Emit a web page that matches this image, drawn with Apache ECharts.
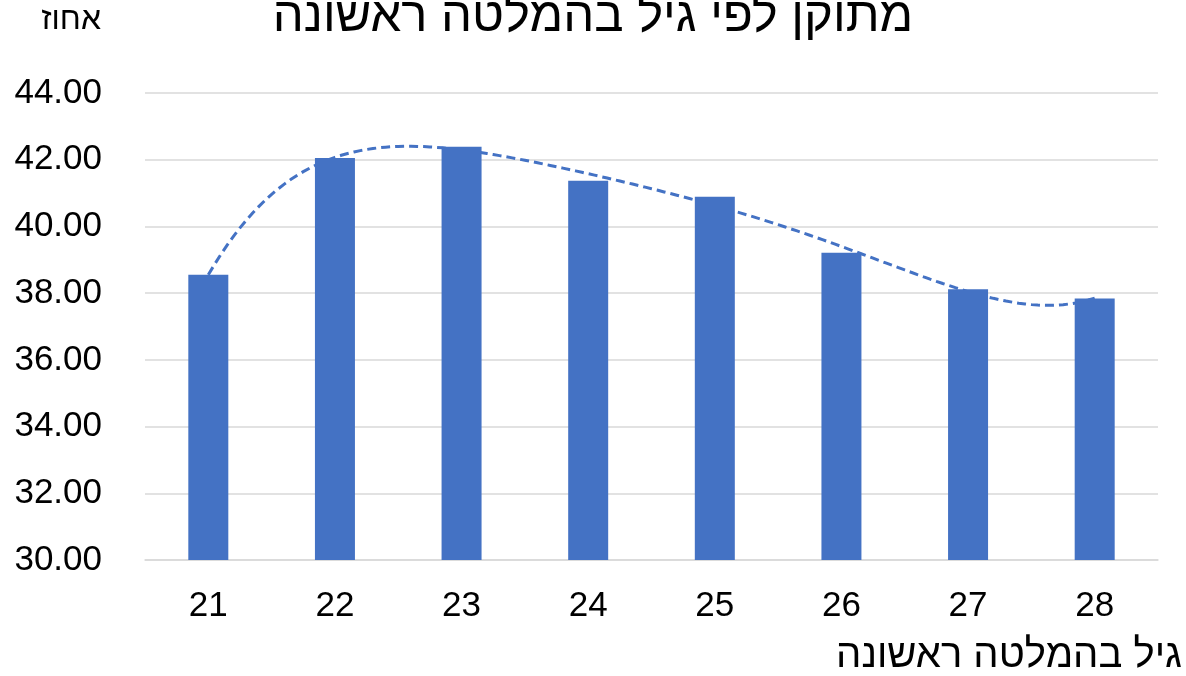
<!DOCTYPE html>
<html>
<head>
<meta charset="utf-8">
<script src="https://cdn.jsdelivr.net/npm/echarts@6/dist/echarts.min.js"></script>
<style>
    html, body { margin: 0; padding: 0; background: #fff; }
    #container { width: 1186px; height: 676px; }
</style>
</head>
<body>
<div id="container"></div>
<script>
// 数据
var ages = ['21', '22', '23', '24', '25', '26', '27', '28']; // גיל בהמלטה ראשונה
var values = [38.55, 42.05, 42.39, 41.37, 40.89, 39.21, 38.12, 37.84]; // אחוז
var yTicks = [30, 32, 34, 36, 38, 40, 42, 44];
var trendOrder = 5; // קו מגמה פולינומי

var titleText = 'מתוקן לפי גיל בהמלטה ראשונה';
var yName = 'אחוז';
var xName = 'גיל בהמלטה ראשונה';

var font = '"Liberation Sans", Arial, sans-serif';
var blue = '#4472C4';

// 多项式趋势线 (最小二乘)
function polyFit(xs, ys, order) {
    var n = order + 1, A = [], b = [];
    for (var i = 0; i < n; i++) {
        A.push([]); b.push(0);
        for (var j = 0; j < n; j++) {
            var s = 0;
            for (var k = 0; k < xs.length; k++) s += Math.pow(xs[k], i + j);
            A[i].push(s);
        }
        for (var k = 0; k < xs.length; k++) b[i] += ys[k] * Math.pow(xs[k], i);
    }
    for (var c = 0; c < n; c++) {
        var p = c;
        for (var r = c + 1; r < n; r++) if (Math.abs(A[r][c]) > Math.abs(A[p][c])) p = r;
        var t = A[c]; A[c] = A[p]; A[p] = t;
        var tb = b[c]; b[c] = b[p]; b[p] = tb;
        for (var r = c + 1; r < n; r++) {
            var f = A[r][c] / A[c][c];
            for (var j = c; j < n; j++) A[r][j] -= f * A[c][j];
            b[r] -= f * b[c];
        }
    }
    var coef = new Array(n);
    for (var i = n - 1; i >= 0; i--) {
        var s = b[i];
        for (var j = i + 1; j < n; j++) s -= A[i][j] * coef[j];
        coef[i] = s / A[i][i];
    }
    return coef;
}

function trendLine() {
    var xs = [], pts = [];
    for (var i = 0; i < values.length; i++) xs.push(i + 1);
    var c = polyFit(xs, values, trendOrder);
    for (var x = 1; x <= values.length + 0.0001; x += 0.05) {
        var y = 0;
        for (var j = 0; j < c.length; j++) y += c[j] * Math.pow(x, j);
        pts.push([x - 1, y]); // 对齐类目轴索引
    }
    return pts;
}

var chart = echarts.init(document.getElementById('container'));
var option = {
    animation: false,
    title: {
        text: titleText,
        left: 'center',
        top: -12,
        textStyle: { fontFamily: font, fontSize: 49, fontWeight: 'normal', color: '#000' }
    },
    grid: {
        left: 145,
        right: 28,
        top: 93,
        bottom: 116
    },
    xAxis: [
        {
            type: 'category',
            data: ages,
            axisLine: { lineStyle: { color: '#d9d9d9', width: 1.5 } },
            axisTick: { show: false },
            axisLabel: { fontFamily: font, fontSize: 35, color: '#000', margin: 29 }
        },
        {
            // 趋势线用的数值轴，和类目轴对齐
            type: 'value',
            min: -0.5,
            max: values.length - 0.5,
            show: false
        }
    ],
    yAxis: {
        type: 'value',
        min: yTicks[0],
        max: yTicks[yTicks.length - 1],
        interval: 2,
        axisLine: { show: false },
        axisTick: { show: false },
        splitLine: { lineStyle: { color: '#d9d9d9', width: 1.5 } },
        axisLabel: {
            fontFamily: font, fontSize: 35, color: '#000', margin: 43,
            formatter: function (v) { return v.toFixed(2); }
        }
    },
    graphic: [
        {
            type: 'text', right: 1186 - 101, top: 4,
            style: { text: yName, fontFamily: font, fontSize: 32, fill: '#000' }
        },
        {
            type: 'text', right: 4, top: 636,
            style: { text: xName, fontFamily: font, fontSize: 40, fill: '#000' }
        }
    ],
    series: [
        {
            type: 'line',
            xAxisIndex: 1,
            data: trendLine(),
            symbol: 'none',
            lineStyle: { color: blue, width: 3, type: [9, 5] },
            z: 1
        },
        {
            type: 'bar',
            data: values,
            barWidth: 40,
            itemStyle: { color: blue },
            z: 3
        }
    ]
};
chart.setOption(option);
</script>
</body>
</html>
